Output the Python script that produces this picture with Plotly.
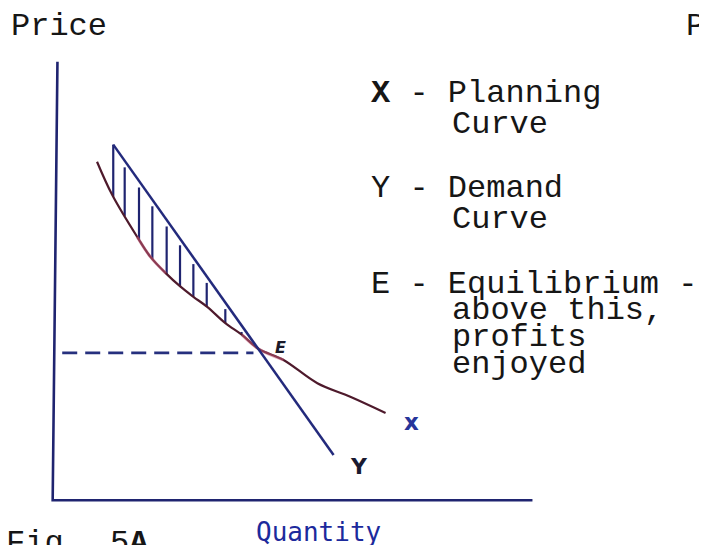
import numpy as np
import plotly.graph_objects as go

# ---- data (quantity, price) in chart units ----
demand_q = [1.21, 5.83]
demand_p = [8.11, 1.03]

planning_q = [0.87, 1.19, 1.71, 1.99, 2.31, 2.62, 2.89, 3.18, 3.56, 3.91, 4.26, 4.78, 5.49, 6.18, 6.92]
planning_p = [7.72, 6.96, 6.01, 5.55, 5.18, 4.87, 4.64, 4.41, 4.04, 3.77, 3.45, 3.20, 2.67, 2.36, 1.99]

equilibrium_price = 3.36
dash_q = [0.14, 4.15]

hatch_q = [1.21, 1.45, 1.75, 2.03, 2.33, 2.61, 2.89, 3.17, 3.56, 3.90]

axis_len_q = 10.0
axis_len_p = 10.0

# ---- figure geometry ----
# the page body has an 8px margin; shrink the figure so that it fills the window
OFF = 8
W, H = 707 - OFF, 545 - OFF
ML, MR, MT, MB = 46 - OFF, 165, 53 - OFF, 36
XR = [-0.2, 10.2]
YR = [-0.2, 10.2]


def px(xp):
    """window pixel x -> paper x"""
    return (xp - OFF - ML) / (W - ML - MR)


def py(yp):
    """window pixel y -> paper y"""
    return (H - MB - (yp - OFF)) / (H - MT - MB)


NAVY = "#1f2470"
MAROON = "#4e1a2c"
INK = "#161616"

fig = go.Figure()

# axes (hand drawn)
fig.add_trace(go.Scatter(x=[0.04, -0.06, axis_len_q], y=[axis_len_p, 0, 0], mode="lines",
                         line=dict(color=NAVY, width=2.6), hoverinfo="skip"))

# hatching between demand and planning curves
hx, hy = [], []
for q in hatch_q:
    top = float(np.interp(q, demand_q, demand_p))
    bot = float(np.interp(q, planning_q, planning_p))
    hx += [q, q, None]
    hy += [top - 0.15 if q > hatch_q[0] else top, bot, None]
fig.add_trace(go.Scatter(x=hx, y=hy, mode="lines", line=dict(color=NAVY, width=2.2), hoverinfo="skip"))

# planning curve X
fig.add_trace(go.Scatter(x=planning_q, y=planning_p, mode="lines", line_shape="spline",
                         line=dict(color=MAROON, width=2.2), hoverinfo="skip"))
# pinkish crayon tint on parts of the curve
for a, b in [(2, 5), (9, 12)]:
    fig.add_trace(go.Scatter(x=planning_q[a:b], y=planning_p[a:b], mode="lines", line_shape="spline",
                             line=dict(color="rgba(200,90,120,0.5)", width=3), hoverinfo="skip"))

# demand line Y
fig.add_trace(go.Scatter(x=demand_q, y=demand_p, mode="lines", line=dict(color="#232a7c", width=2.5),
                         hoverinfo="skip"))

# dashed equilibrium price
fig.add_trace(go.Scatter(x=dash_q, y=[equilibrium_price, equilibrium_price], mode="lines",
                         line=dict(color="#26307e", width=2.6, dash="15px,8px"), hoverinfo="skip"))

ann = []
MONO = "Liberation Mono, Courier New, monospace"
FS = 32


def tw(text, x, yc, size=FS, color=INK):
    ann.append(dict(text=text, x=px(x), y=py(yc), xref="paper", yref="paper", xanchor="left",
                    yanchor="middle", showarrow=False, font=dict(family=MONO, size=size, color=color)))


tw("Price", 9, 26)
ann.append(dict(text="P", x=px(707), y=py(26), xref="paper", yref="paper", xanchor="right",
                yanchor="middle", showarrow=False, font=dict(family=MONO, size=FS, color=INK)))

cw = 0.6 * FS
x0 = 369
ind = x0 + 4 * cw + 4
tw("<b>X</b> - Planning", x0, 93)
tw("Curve", ind, 124)
tw("Y - Demand", x0, 188)
tw("Curve", ind, 219)
tw("E - Equilibrium -", x0, 284)
tw("above this,", ind, 310)
tw("profits", ind, 337)
tw("enjoyed", ind, 364)

tw("Fig.", 4, 543)
tw("5<b>A</b>", 108, 543)

# handwritten labels
HAND = "DejaVu Sans"
ann.append(dict(text="Quantity", x=px(318), y=py(532), xref="paper", yref="paper", showarrow=False,
                xanchor="center", yanchor="middle",
                font=dict(family="DejaVu Sans Mono", size=26, color="#1c2a9c")))
ann.append(dict(text="<b><i>E</i></b>", x=px(280), y=py(347), xref="paper", yref="paper", showarrow=False,
                xanchor="center", yanchor="middle", font=dict(family=HAND, size=16, color="#1a1a2a")))
ann.append(dict(text="<b>x</b>", x=px(411), y=py(422), xref="paper", yref="paper", showarrow=False,
                xanchor="center", yanchor="middle", font=dict(family=HAND, size=23, color="#27359a")))
ann.append(dict(text="<b>Y</b>", x=px(359), y=py(466), xref="paper", yref="paper", showarrow=False,
                xanchor="center", yanchor="middle", font=dict(family=HAND, size=22, color="#1a1a30")))

fig.update_layout(
    width=W, height=H, autosize=False,
    margin=dict(l=ML, r=MR, t=MT, b=MB, pad=0),
    paper_bgcolor="white", plot_bgcolor="white",
    showlegend=False,
    annotations=ann,
    xaxis=dict(range=XR, visible=False, fixedrange=True),
    yaxis=dict(range=YR, visible=False, fixedrange=True),
)

fig.write_html("out.html")
